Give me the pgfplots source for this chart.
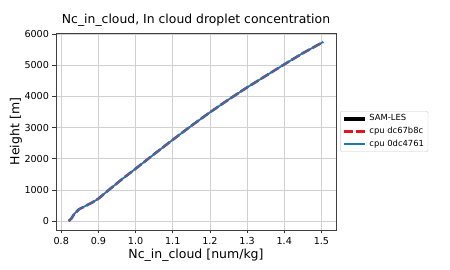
\documentclass[border=0pt]{standalone}
\usepackage{pgfplots}
\pgfplotsset{compat=1.18}
\usepackage{fontspec}
\setmainfont{DejaVu Sans}
\definecolor{mplblue}{HTML}{1F77B4}
\definecolor{mplred}{HTML}{E3161B}
\definecolor{gridgrey}{HTML}{D0D0D0}
\begin{document}
\begin{tikzpicture}
\path[use as bounding box] (-56pt,-40pt) rectangle (394pt,230pt);
\begin{axis}[
  scale only axis,
  width=280pt, height=197pt,
  xmin=0.7858, xmax=1.5392,
  ymin=-287, ymax=6037,
  xtick={0.8,0.9,1.0,1.1,1.2,1.3,1.4,1.5},
  xticklabels={0.8,0.9,1.0,1.1,1.2,1.3,1.4,1.5},
  ytick={0,1000,2000,3000,4000,5000,6000},
  /pgf/number format/set thousands separator={},
  /pgf/number format/assume math mode=true,
  tick label style={font=\fontsize{9.6}{11}\selectfont, text=black},
  tick align=outside,
  major tick length=3.5pt,
  tick style={black!80, line width=0.6pt},
  xtick pos=bottom, ytick pos=left,
  grid=major,
  major grid style={gridgrey, line width=0.7pt},
  axis line style={black!75, line width=0.7pt},
  title={Nc\_in\_cloud, In cloud droplet concentration},
  title style={font=\fontsize{12.4}{14}\selectfont, at={(axis description cs:0.5,1.02)}, anchor=base},
  xlabel={Nc\_in\_cloud [num/kg]},
  xlabel style={font=\fontsize{12.5}{14}\selectfont, at={(axis description cs:0.5,-0.127)}, anchor=center},
  ylabel={Height [m]},
  ylabel style={font=\fontsize{12.5}{14}\selectfont, at={(axis description cs:-0.143,0.5)}, anchor=center},
  legend style={at={(axis description cs:1.015,0.5)}, anchor=west, font=\fontsize{8.4}{10}\selectfont,
    draw=black!20, rounded corners=1.5pt, inner xsep=2pt, inner ysep=1.5pt, row sep=1pt},
  legend cell align=left,
  legend image code/.code={\draw[#1] (0pt,0pt) -- (21pt,0pt);},
]
\addlegendimage{black, line width=4pt}
\addlegendentry{SAM-LES}
\addplot[mplred, line width=2.6pt, dash pattern=on 9pt off 3pt] coordinates {
(0.820,0) (0.827,80) (0.835,230) (0.848,380) (0.866,490) (0.884,600) (0.900,720)
(0.928,1000) (0.964,1350) (1.000,1680) (1.050,2150) (1.100,2610) (1.150,3060)
(1.200,3490) (1.250,3900) (1.300,4290) (1.350,4660) (1.400,5030) (1.450,5390) (1.505,5750)
};
\addlegendentry{cpu dc67b8c}
\addplot[mplblue, line width=1.8pt] coordinates {
(0.820,0) (0.827,80) (0.835,230) (0.848,380) (0.866,490) (0.884,600) (0.900,720)
(0.928,1000) (0.964,1350) (1.000,1680) (1.050,2150) (1.100,2610) (1.150,3060)
(1.200,3490) (1.250,3900) (1.300,4290) (1.350,4660) (1.400,5030) (1.450,5390) (1.505,5750)
};
\addlegendentry{cpu 0dc4761}
\node[anchor=north east, font=\fontsize{9.6}{11}\selectfont, inner sep=0pt] at (axis description cs:1,-0.085) {1e8};
\end{axis}
\end{tikzpicture}
\end{document}
